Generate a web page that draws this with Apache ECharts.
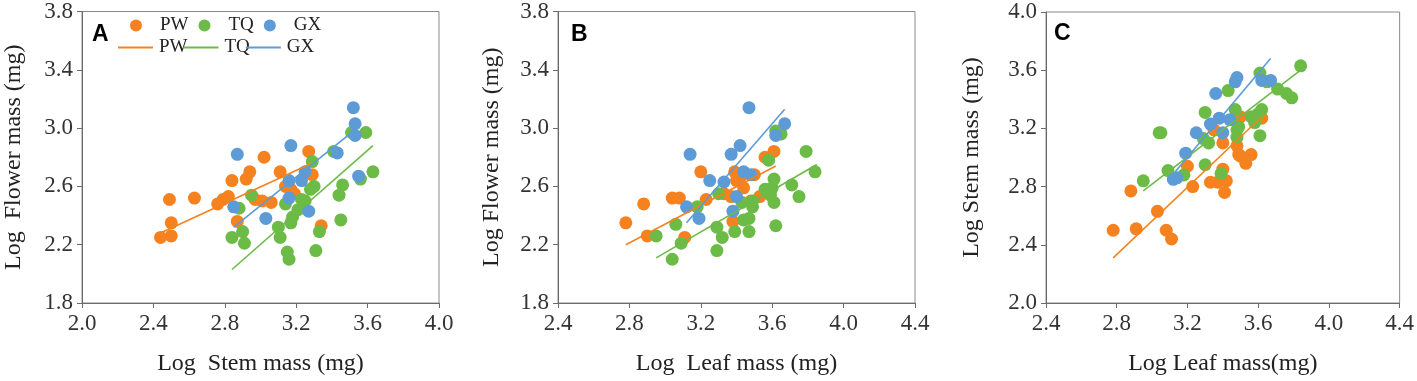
<!DOCTYPE html>
<html>
<head>
<meta charset="utf-8">
<script src="https://cdn.jsdelivr.net/npm/echarts@6/dist/echarts.min.js"></script>
<style>
  html, body { margin: 0; padding: 0; background: #fff; }
  #main { width: 1417px; height: 381px; }
</style>
</head>
<body>
<div id="main"></div>
<script>
// 颜色
var cPW = '#f5821f';
var cTQ = '#6cbb47';
var cGX = '#5c9bd6';

// 图A: Log Stem mass (x) - Log Flower mass (y)
var aPW = [[2.44,2.25],[2.49,2.51],[2.50,2.35],[2.50,2.26],[2.63,2.52],[2.76,2.48],[2.79,2.51],[2.82,2.53],[2.84,2.64],[2.87,2.36],[2.92,2.65],[2.94,2.70],[2.97,2.51],[3.02,2.80],[3.01,2.50],[3.06,2.49],[3.11,2.70],[3.14,2.60],[3.17,2.58],[3.19,2.55],[3.27,2.84],[3.29,2.68],[3.34,2.33]];
var aTQ = [[2.84,2.25],[2.88,2.45],[2.90,2.29],[2.91,2.21],[2.95,2.54],[3.10,2.32],[3.11,2.25],[3.14,2.48],[3.15,2.15],[3.16,2.10],[3.17,2.35],[3.18,2.39],[3.21,2.44],[3.23,2.51],[3.25,2.50],[3.28,2.58],[3.29,2.77],[3.30,2.60],[3.31,2.16],[3.33,2.29],[3.41,2.84],[3.44,2.54],[3.45,2.37],[3.46,2.61],[3.51,2.97],[3.56,2.65],[3.59,2.97],[3.63,2.70]];
var aGX = [[2.87,2.82],[2.85,2.46],[3.03,2.38],[3.16,2.64],[3.17,2.88],[3.16,2.52],[3.23,2.64],[3.25,2.70],[3.27,2.43],[3.43,2.83],[3.52,3.14],[3.53,3.03],[3.53,2.95],[3.55,2.67]];
var aFitPW = [[2.44,2.28],[3.29,2.76]];
var aFitTQ = [[2.84,2.03],[3.63,2.88]];
var aFitGX = [[2.85,2.32],[3.52,2.98]];

// 图B: Log Leaf mass (x) - Log Flower mass (y)
var bPW = [[2.78,2.35],[2.88,2.48],[2.90,2.26],[3.04,2.52],[3.08,2.52],[3.11,2.25],[3.20,2.70],[3.23,2.51],[3.33,2.55],[3.37,2.53],[3.38,2.36],[3.39,2.70],[3.40,2.64],[3.42,2.66],[3.44,2.59],[3.50,2.68],[3.53,2.53],[3.56,2.80],[3.61,2.84],[3.48,2.50]];
var bTQ = [[2.95,2.26],[3.04,2.10],[3.06,2.34],[3.09,2.21],[3.18,2.46],[3.29,2.16],[3.29,2.32],[3.30,2.55],[3.32,2.25],[3.39,2.29],[3.43,2.49],[3.44,2.37],[3.47,2.38],[3.47,2.29],[3.49,2.46],[3.49,2.50],[3.56,2.58],[3.58,2.78],[3.59,2.54],[3.60,2.59],[3.61,2.65],[3.61,2.49],[3.62,2.33],[3.62,2.98],[3.65,2.96],[3.71,2.61],[3.75,2.53],[3.79,2.84],[3.84,2.70]];
var bGX = [[3.12,2.46],[3.14,2.82],[3.19,2.38],[3.25,2.64],[3.33,2.63],[3.37,2.82],[3.38,2.43],[3.40,2.53],[3.42,2.88],[3.44,2.70],[3.47,3.14],[3.48,2.68],[3.62,2.95],[3.67,3.03]];
var bFitPW = [[2.78,2.20],[3.62,2.74]];
var bFitTQ = [[2.95,2.11],[3.85,2.75]];
var bFitGX = [[3.12,2.35],[3.67,3.13]];

// 图C: Log Leaf mass (x) - Log Stem mass (y)
var cPWd = [[2.78,2.50],[2.88,2.77],[2.91,2.51],[3.03,2.63],[3.08,2.50],[3.11,2.44],[3.20,2.94],[3.23,2.80],[3.33,2.83],[3.37,2.83],[3.40,2.92],[3.41,2.76],[3.42,2.84],[3.40,3.10],[3.35,3.19],[3.48,3.08],[3.49,3.02],[3.50,3.01],[3.53,2.96],[3.56,3.02],[3.50,3.28],[3.62,3.27]];
var cTQd = [[2.95,2.84],[3.04,3.17],[3.05,3.17],[3.09,2.91],[3.18,2.88],[3.30,3.31],[3.30,2.95],[3.29,3.13],[3.32,3.10],[3.39,2.89],[3.43,3.46],[3.47,3.33],[3.48,3.19],[3.48,3.14],[3.49,3.21],[3.56,3.28],[3.58,3.24],[3.60,3.30],[3.61,3.58],[3.61,3.15],[3.62,3.33],[3.65,3.52],[3.71,3.47],[3.76,3.44],[3.79,3.41],[3.84,3.63]];
var cGXd = [[3.12,2.85],[3.14,2.86],[3.19,3.03],[3.25,3.17],[3.33,3.23],[3.36,3.44],[3.38,3.27],[3.40,3.17],[3.44,3.26],[3.47,3.52],[3.48,3.55],[3.62,3.53],[3.67,3.53]];
var cFitPW = [[2.78,2.31],[3.62,3.28]];
var cFitTQ = [[2.95,2.77],[3.84,3.60]];
var cFitGX = [[3.13,2.90],[3.67,3.68]];

// 坐标轴范围
var xRange = [[2.0,4.0],[2.4,4.4],[2.4,4.4]];
var yRange = [[1.8,3.8],[1.8,3.8],[2.0,4.0]];
var xNames = ['Log  Stem mass (mg)','Log  Leaf mass (mg)','Log Leaf mass(mg)'];
var yNames = ['Log  Flower mass (mg)','Log Flower mass (mg)','Log Stem mass (mg)'];

var serif = '"Liberation Serif", "Times New Roman", serif';
var axisColor = '#6b6b6b';

var grids = [
  {left: 82, top: 9, width: 357, height: 294},
  {left: 558, top: 9, width: 357, height: 294},
  {left: 1046, top: 12, width: 355, height: 293}
];
var yGaps = [56, 54, 62];

var xAxes = [], yAxes = [], titles = [];
for (var i = 0; i < 3; i++) {
  grids[i].show = true;
  grids[i].borderColor = '#8a8a8a';
  grids[i].borderWidth = 1;
  xAxes.push({
    type: 'value', gridIndex: i, min: xRange[i][0], max: xRange[i][1], interval: 0.4,
    name: xNames[i], nameLocation: 'middle', nameGap: 49,
    nameTextStyle: {fontFamily: serif, fontSize: 24, color: '#222'},
    axisLine: {lineStyle: {color: axisColor}},
    axisTick: {inside: false, length: 5, lineStyle: {color: axisColor}},
    splitLine: {show: false},
    axisLabel: {fontFamily: serif, fontSize: 23, color: '#333', margin: 9,
      formatter: function (v) { return v.toFixed(1); }}
  });
  yAxes.push({
    type: 'value', gridIndex: i, min: yRange[i][0], max: yRange[i][1], interval: 0.4,
    name: yNames[i], nameLocation: 'middle', nameGap: yGaps[i],
    nameTextStyle: {fontFamily: serif, fontSize: 24, color: '#222'},
    axisLine: {lineStyle: {color: axisColor}},
    axisTick: {inside: false, length: 5, lineStyle: {color: axisColor}},
    splitLine: {show: false},
    axisLabel: {fontFamily: serif, fontSize: 23, color: '#333', margin: 9,
      formatter: function (v) { return v.toFixed(1); }}
  });
}

// 面板字母
titles = [
  {text: 'A', left: 92, top: 23},
  {text: 'B', left: 571, top: 23},
  {text: 'C', left: 1054, top: 22}
];
titles.forEach(function (t) {
  t.textStyle = {fontFamily: '"Liberation Sans", Arial, sans-serif', fontWeight: 'bold', fontSize: 23, color: '#000'};
  t.padding = 0;
});

// 散点 + 回归线
function scatterS(name, data, color, idx) {
  return {
    name: name, type: 'scatter', xAxisIndex: idx, yAxisIndex: idx,
    data: data, symbolSize: 13, itemStyle: {color: color, opacity: 1}
  };
}
function lineS(name, data, color, idx) {
  return {
    name: name, type: 'line', xAxisIndex: idx, yAxisIndex: idx,
    data: data, showSymbol: false, symbol: 'none', z: 3,
    lineStyle: {color: color, width: 1.6}, itemStyle: {color: color}
  };
}

var panels = [
  [aPW, aTQ, aGX, aFitPW, aFitTQ, aFitGX],
  [bPW, bTQ, bGX, bFitPW, bFitTQ, bFitGX],
  [cPWd, cTQd, cGXd, cFitPW, cFitTQ, cFitGX]
];
var series = [];
panels.forEach(function (p, idx) {
  series.push(scatterS('PW', p[0], cPW, idx));
  series.push(scatterS('TQ', p[1], cTQ, idx));
  series.push(scatterS('GX', p[2], cGX, idx));
  series.push(lineS('PW fit', p[3], cPW, idx));
  series.push(lineS('TQ fit', p[4], cTQ, idx));
  series.push(lineS('GX fit', p[5], cGX, idx));
});

var option = {
  animation: false,
  title: titles,
  grid: grids,
  xAxis: xAxes,
  yAxis: yAxes,
  legend: [
    {
      data: ['PW', 'TQ', 'GX'], left: 130, top: 16, orient: 'horizontal',
      icon: 'circle', itemWidth: 12, itemHeight: 12, itemGap: 10, padding: 0,
      textStyle: {fontFamily: serif, fontSize: 19, color: '#222', padding: [0, 0, 0, 13]}
    },
    {
      data: ['PW fit', 'TQ fit', 'GX fit'], left: 118, top: 38, orient: 'horizontal',
      icon: 'rect', itemWidth: 35, itemHeight: 2, itemGap: -4, padding: 0,
      formatter: function (n) { return n.replace(' fit', ''); },
      textStyle: {fontFamily: serif, fontSize: 19, color: '#222', padding: [0, 0, 0, 1]}
    }
  ],
  series: series
};

var chart = echarts.init(document.getElementById('main'), null, {renderer: 'canvas'});
chart.setOption(option);
</script>
</body>
</html>
